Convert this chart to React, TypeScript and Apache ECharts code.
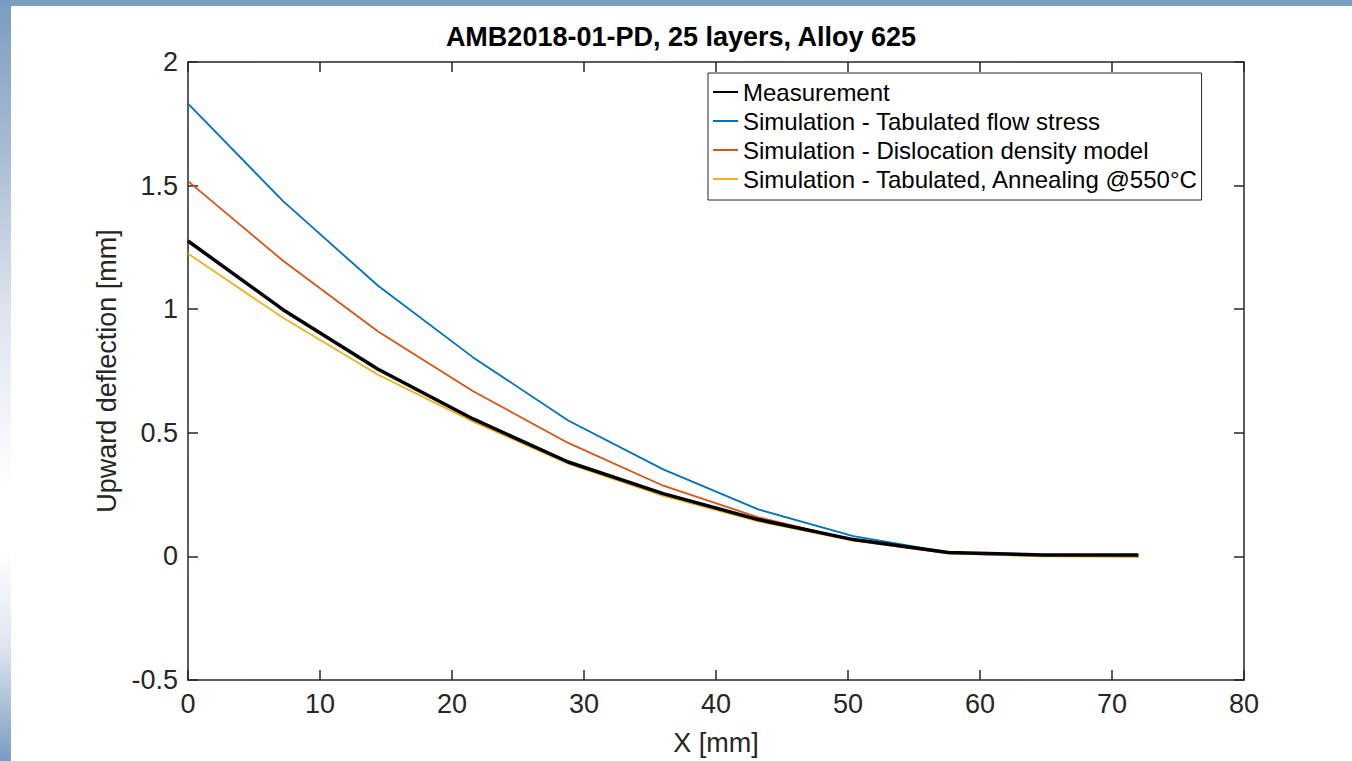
import React, { useEffect, useRef } from "react";
import * as echarts from "echarts";

const xPositions = [0, 7.2, 14.4, 21.6, 28.8, 36, 43.2, 50.4, 57.6, 64.8, 72];
const measurement = [1.276, 0.998, 0.757, 0.556, 0.382, 0.254, 0.149, 0.068, 0.016, 0.006, 0.006];
const tabulated = [1.832, 1.437, 1.095, 0.805, 0.55, 0.352, 0.19, 0.082, 0.016, 0.004, 0.0];
const dislocation = [1.518, 1.196, 0.91, 0.668, 0.459, 0.286, 0.158, 0.066, 0.012, 0.002, 0.0];
const annealing = [1.225, 0.965, 0.735, 0.545, 0.375, 0.245, 0.142, 0.064, 0.012, 0.0, -0.002];

const seriesNames = [
  "Measurement",
  "Simulation - Tabulated flow stress",
  "Simulation - Dislocation density model",
  "Simulation - Tabulated, Annealing @550°C",
];

const titleText = "AMB2018-01-PD, 25 layers, Alloy 625";
const xName = "X [mm]";
const yName = "Upward deflection [mm]";

const FONT = "'Liberation Sans', Arial, Helvetica, sans-serif";
const AX = "#262626";

function pairs(vals: number[]) {
  return xPositions.map((x, i) => [x, vals[i]]);
}

export default function App() {
  const ref = useRef<HTMLDivElement>(null);
  useEffect(() => {
    if (!ref.current) return;
    const chart = echarts.init(ref.current, undefined, { renderer: "svg" });
    const axisCommon = {
      axisLine: { show: true, onZero: false, lineStyle: { color: AX, width: 1.5 } },
      axisTick: { show: true, inside: true, length: 10, lineStyle: { color: AX, width: 1.5 } },
      splitLine: { show: false },
    };
    const labelStyle = { color: AX, fontSize: 27, fontFamily: FONT };
    chart.setOption({
      animation: false,
      backgroundColor: "#ffffff",
      title: {
        text: titleText,
        left: 676,
        top: 18,
        textAlign: "center",
        textStyle: { fontSize: 27, fontWeight: "bold", color: "#000", fontFamily: FONT },
      },
      graphic: [
        {
          type: "rect",
          shape: { x: 0, y: 0, width: 1352, height: 6 },
          style: { fill: "#7c9ec2" },
          silent: true,
        },
        {
          type: "rect",
          shape: { x: 0, y: 0, width: 11, height: 761 },
          style: {
            fill: new echarts.graphic.LinearGradient(0, 0, 0, 1, [
              { offset: 0, color: "#7a9cc0" },
              { offset: 0.2, color: "#a8bcd3" },
              { offset: 0.4, color: "#dde2ee" },
              { offset: 0.64, color: "#ffffff" },
              { offset: 0.72, color: "#ffffff" },
              { offset: 0.85, color: "#dfe5ef" },
              { offset: 1, color: "#7a9cc0" },
            ]),
          },
          silent: true,
        },
      ],
      legend: {
        orient: "vertical",
        left: 708,
        top: 73,
        data: seriesNames,
        backgroundColor: "#ffffff",
        borderColor: AX,
        borderWidth: 1,
        padding: [6, 3, 8, 4],
        itemGap: 3,
        itemWidth: 25,
        itemHeight: 14,
        itemStyle: { opacity: 0 },
        textStyle: { fontSize: 24, fontFamily: FONT, color: "#000", lineHeight: 26 },
      },
      grid: { left: 188, right: 108, top: 62, bottom: 78, containLabel: false },
      xAxis: [
        {
          type: "value",
          min: 0,
          max: 80,
          interval: 10,
          position: "bottom",
          name: xName,
          nameLocation: "middle",
          nameGap: 49,
          nameTextStyle: { fontSize: 27, fontFamily: FONT, color: AX },
          axisLabel: { ...labelStyle, margin: 10 },
          ...axisCommon,
        },
        {
          type: "value",
          min: 0,
          max: 80,
          interval: 10,
          position: "top",
          axisLabel: { show: false },
          ...axisCommon,
        },
      ],
      yAxis: [
        {
          type: "value",
          min: -0.5,
          max: 2,
          interval: 0.5,
          position: "left",
          name: yName,
          nameLocation: "middle",
          nameGap: 62,
          nameTextStyle: { fontSize: 27, fontFamily: FONT, color: AX },
          axisLabel: { ...labelStyle, margin: 10 },
          ...axisCommon,
        },
        {
          type: "value",
          min: -0.5,
          max: 2,
          interval: 0.5,
          position: "right",
          axisLabel: { show: false },
          ...axisCommon,
        },
      ],
      series: [
        {
          name: seriesNames[1],
          type: "line",
          data: pairs(tabulated),
          symbol: "none",
          lineStyle: { color: "#0072BD", width: 1.8 },
          itemStyle: { color: "#0072BD" },
          z: 3,
        },
        {
          name: seriesNames[2],
          type: "line",
          data: pairs(dislocation),
          symbol: "none",
          lineStyle: { color: "#D95319", width: 1.8 },
          itemStyle: { color: "#D95319" },
          z: 4,
        },
        {
          name: seriesNames[3],
          type: "line",
          data: pairs(annealing),
          symbol: "none",
          lineStyle: { color: "#EDB120", width: 1.8 },
          itemStyle: { color: "#EDB120" },
          z: 5,
        },
        {
          name: seriesNames[0],
          type: "line",
          data: pairs(measurement),
          symbol: "none",
          lineStyle: { color: "#000000", width: 3.5 },
          itemStyle: { color: "#000000" },
          z: 6,
        },
      ],
    });
    return () => chart.dispose();
  }, []);
  return (
    <div
      ref={ref}
      style={{ position: "absolute", left: 0, top: 0, width: 1352, height: 761 }}
    />
  );
}
